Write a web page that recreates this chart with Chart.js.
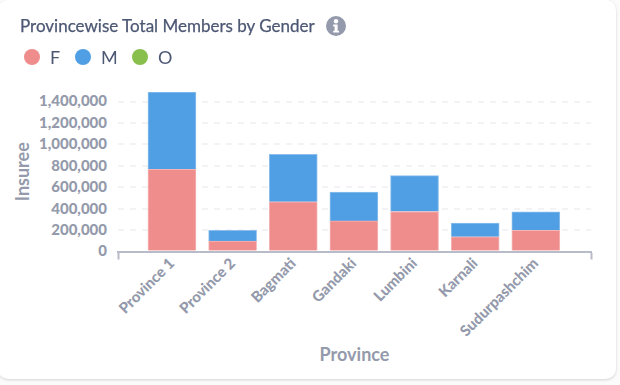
<!DOCTYPE html>
<html>
<head>
<meta charset="utf-8">
<script src="https://cdn.jsdelivr.net/npm/chart.js@4"></script>
<style>
  html, body { margin: 0; padding: 0; background: #fbfbfb; }
  body { width: 620px; height: 385px; overflow: hidden; position: relative; font-family: Lato, sans-serif; }
  #card { position: absolute; left: -2px; top: 0; width: 618px; height: 379px; background: #fff; border-radius: 10px; box-shadow: 0 1px 3px rgba(0,0,0,0.16); }
  #titulo { position: absolute; z-index: 2; left: 20px; top: 16px; font-size: 17px; font-weight: 400; -webkit-text-stroke: 0.25px #4c5773; color: #4c5773; line-height: 20px; white-space: nowrap; }
  #info { position: absolute; z-index: 2; left: 326px; top: 16px; width: 20px; height: 20px; }
  #legenda span { position: absolute; z-index: 2; top: 47px; font-size: 18px; font-weight: 400; color: #4c5773; line-height: 20px; }
  #legenda i { position: absolute; z-index: 2; top: 49px; width: 16px; height: 16px; border-radius: 50%; }
  canvas { position: absolute; left: 6px; top: 6px; }
</style>
</head>
<body>
<div id="card"></div>
<div id="titulo">Provincewise Total Members by Gender</div>
<svg id="info" viewBox="0 0 20 20"><circle cx="10" cy="10" r="10" fill="#949aab"/><circle cx="10" cy="5.2" r="2.2" fill="#fff"/><path d="M7.2 8.6h4.4v6.2h1.4v1.8H7.2v-1.8h1.4v-4.4H7.2z" fill="#fff"/></svg>
<div id="legenda"></div>
<canvas id="grafico" width="606" height="368"></canvas>
<script>
const provincias = ['Province 1', 'Province 2', 'Bagmati', 'Gandaki', 'Lumbini', 'Karnali', 'Sudurpashchim'];
const feminino = [767000, 98000, 465000, 286000, 374000, 138000, 197000];
const masculino = [723000, 99000, 442000, 270000, 335000, 127000, 173000];
const outros = [0, 0, 0, 0, 0, 0, 0];
const generos = ['F', 'M', 'O'];
const coresGenero = ['#ef8c8c', '#509ee3', '#88bf4d'];
const bordasGenero = ['#f5b5b5', '#8dc0ee', '#b5d88f'];
const ticksY = [0, 200000, 400000, 600000, 800000, 1000000, 1200000, 1400000];
const maxY = 1490000;
const minX = -0.89;
const maxX = 6.91;

const cinza = '#949aab';

// legenda em html, igual ao cabecalho do card
const legendaX = [24, 75, 132];
const legenda = document.getElementById('legenda');
generos.forEach((g, i) => {
  const bola = document.createElement('i');
  bola.style.left = legendaX[i] + 'px';
  bola.style.background = coresGenero[i];
  legenda.appendChild(bola);
  const txt = document.createElement('span');
  txt.style.left = (legendaX[i] + 26) + 'px';
  txt.textContent = g;
  legenda.appendChild(txt);
});

function serie(valores, i) {
  return {
    label: generos[i],
    data: valores.map((v, idx) => ({ x: idx, y: v })),
    backgroundColor: coresGenero[i],
    borderColor: bordasGenero[i],
    borderWidth: 1,
    barThickness: 48
  };
}

// canvas opaco: fundo branco pintado antes de tudo
const fundoBranco = {
  id: 'fundoBranco',
  beforeDraw(chart) {
    const c = chart.ctx;
    c.save();
    c.fillStyle = '#fff';
    c.fillRect(0, 0, chart.width, chart.height);
    c.restore();
  }
};

new Chart(document.getElementById('grafico').getContext('2d', { alpha: false }), {
  type: 'bar',
  data: {
    datasets: [serie(feminino, 0), serie(masculino, 1), serie(outros, 2)]
  },
  plugins: [fundoBranco],
  options: {
    responsive: false,
    animation: false,
    layout: { padding: { left: 6, right: 21, top: 86, bottom: 8 } },
    plugins: { legend: { display: false }, tooltip: { enabled: false } },
    scales: {
      x: {
        type: 'linear',
        stacked: true,
        offset: false,
        min: minX,
        max: maxX,
        afterBuildTicks: scale => {
          scale.ticks = [minX].concat(provincias.map((p, i) => i), maxX).map(v => ({ value: v }));
        },
        afterFit: scale => { scale.height = 114.5; },
        border: { color: '#b8bbc8', width: 2 },
        grid: {
          offset: false,
          drawOnChartArea: false,
          tickLength: 8,
          tickWidth: 2,
          tickColor: ctx => (ctx.index === 0 || ctx.index === provincias.length + 1) ? '#b8bbc8' : 'transparent'
        },
        ticks: {
          autoSkip: false,
          maxRotation: 45,
          minRotation: 45,
          padding: -5,
          color: cinza,
          font: { family: 'Lato', size: 15, weight: '900' },
          callback: v => Number.isInteger(v) ? provincias[v] : ''
        },
        title: {
          display: true,
          text: 'Province',
          color: cinza,
          font: { family: 'Lato', size: 18, weight: '700' },
          padding: { top: 0, bottom: 0 }
        }
      },
      y: {
        stacked: true,
        min: 0,
        max: maxY,
        afterBuildTicks: scale => {
          scale.ticks = ticksY.map(v => ({ value: v }));
        },
        afterFit: scale => { scale.width = 106; },
        border: { display: false, dash: [6, 6] },
        grid: {
          drawTicks: false,
          color: ctx => ctx.tick.value === 0 ? 'transparent' : '#f3f3f5',
          lineWidth: 2
        },
        ticks: {
          padding: 11,
          color: cinza,
          font: { family: 'Lato', size: 15, weight: '900' },
          callback: v => v.toLocaleString('en-US')
        },
        title: {
          display: true,
          text: 'Insuree',
          color: cinza,
          font: { family: 'Lato', size: 18, weight: '700' },
          padding: { top: 0, bottom: 0 }
        }
      }
    }
  }
});
</script>
</body>
</html>
